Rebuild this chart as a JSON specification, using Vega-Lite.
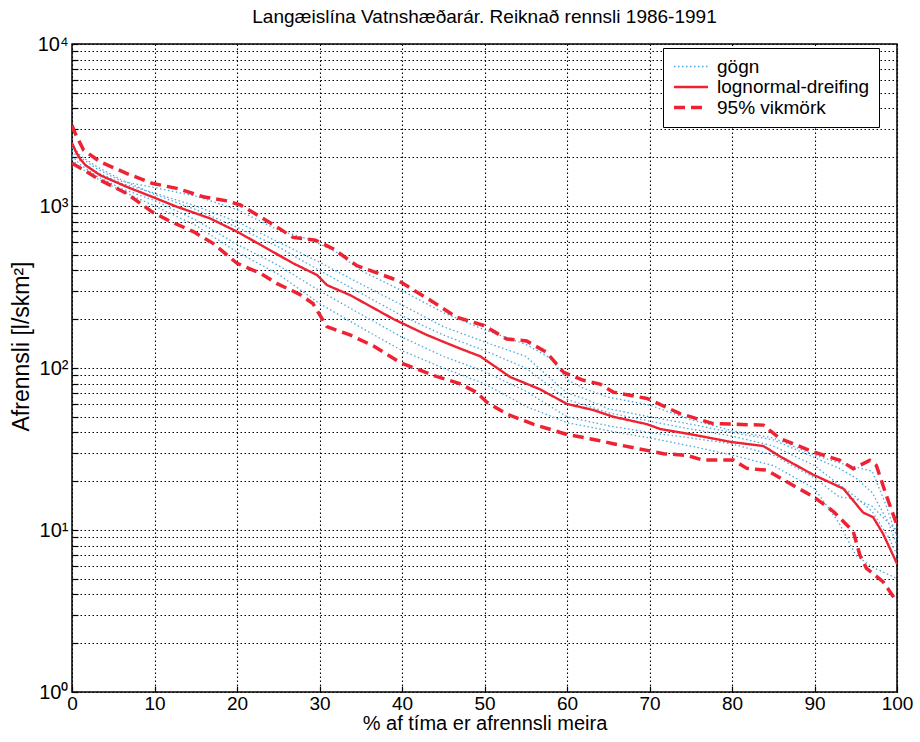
{
  "$schema": "https://vega.github.io/schema/vega-lite/v6.json",
  "width": 825,
  "height": 648,
  "autosize": {"type": "none"},
  "padding": {"left": 72, "top": 44, "right": 23, "bottom": 50},
  "background": "white",
  "title": {"text": "Langæislína Vatnshæðarár. Reiknað rennsli 1986-1991", "font": "Liberation Sans", "fontSize": 19, "fontWeight": "normal", "color": "black", "frame": "group", "anchor": "middle", "offset": 7},
  "config": {
    "view": {"stroke": "black", "strokeWidth": 1.5},
    "axis": {"labelFont": "Liberation Sans", "titleFont": "Liberation Sans", "labelColor": "black", "titleColor": "black", "titleFontWeight": "normal", "grid": true, "gridColor": "black", "gridOpacity": 1, "gridDash": [1.5, 2.5], "gridWidth": 1.1, "domain": false, "ticks": true, "tickSize": -6, "tickColor": "black", "tickWidth": 1.2}
  },
  "data": {"values": [
    {"s":"g1","k":"gögn","x":0,"y":2300},{"s":"g1","k":"gögn","x":1,"y":2000},{"s":"g1","k":"gögn","x":3,"y":1700},{"s":"g1","k":"gögn","x":6,"y":1420},{"s":"g1","k":"gögn","x":10,"y":1300},{"s":"g1","k":"gögn","x":15,"y":1150},{"s":"g1","k":"gögn","x":20,"y":950},{"s":"g1","k":"gögn","x":25,"y":710},{"s":"g1","k":"gögn","x":29,"y":617},{"s":"g1","k":"gögn","x":32,"y":520},{"s":"g1","k":"gögn","x":35,"y":400},{"s":"g1","k":"gögn","x":40,"y":300},{"s":"g1","k":"gögn","x":45,"y":220},{"s":"g1","k":"gögn","x":50,"y":172},{"s":"g1","k":"gögn","x":55,"y":140},{"s":"g1","k":"gögn","x":58,"y":115},{"s":"g1","k":"gögn","x":60,"y":85},{"s":"g1","k":"gögn","x":62,"y":75},{"s":"g1","k":"gögn","x":65,"y":66},{"s":"g1","k":"gögn","x":70,"y":59},{"s":"g1","k":"gögn","x":75,"y":48},{"s":"g1","k":"gögn","x":80,"y":41},{"s":"g1","k":"gögn","x":85,"y":37},{"s":"g1","k":"gögn","x":90,"y":29},{"s":"g1","k":"gögn","x":93,"y":26},{"s":"g1","k":"gögn","x":95,"y":24.5},{"s":"g1","k":"gögn","x":97,"y":23},{"s":"g1","k":"gögn","x":98.5,"y":15},{"s":"g1","k":"gögn","x":100,"y":9},
    {"s":"g2","k":"gögn","x":0,"y":2200},{"s":"g2","k":"gögn","x":1,"y":1900},{"s":"g2","k":"gögn","x":3,"y":1620},{"s":"g2","k":"gögn","x":6,"y":1380},{"s":"g2","k":"gögn","x":10,"y":1200},{"s":"g2","k":"gögn","x":15,"y":1000},{"s":"g2","k":"gögn","x":20,"y":800},{"s":"g2","k":"gögn","x":25,"y":600},{"s":"g2","k":"gögn","x":30,"y":450},{"s":"g2","k":"gögn","x":35,"y":330},{"s":"g2","k":"gögn","x":40,"y":245},{"s":"g2","k":"gögn","x":45,"y":180},{"s":"g2","k":"gögn","x":50,"y":145},{"s":"g2","k":"gögn","x":55,"y":118},{"s":"g2","k":"gögn","x":60,"y":70},{"s":"g2","k":"gögn","x":62,"y":65},{"s":"g2","k":"gögn","x":65,"y":56},{"s":"g2","k":"gögn","x":70,"y":50},{"s":"g2","k":"gögn","x":75,"y":45},{"s":"g2","k":"gögn","x":80,"y":40},{"s":"g2","k":"gögn","x":85,"y":36},{"s":"g2","k":"gögn","x":90,"y":28},{"s":"g2","k":"gögn","x":93,"y":24},{"s":"g2","k":"gögn","x":95,"y":21},{"s":"g2","k":"gögn","x":97,"y":17},{"s":"g2","k":"gögn","x":99,"y":11},{"s":"g2","k":"gögn","x":100,"y":8},
    {"s":"g3","k":"gögn","x":0,"y":2050},{"s":"g3","k":"gögn","x":1,"y":1800},{"s":"g3","k":"gögn","x":3,"y":1530},{"s":"g3","k":"gögn","x":6,"y":1280},{"s":"g3","k":"gögn","x":10,"y":1080},{"s":"g3","k":"gögn","x":15,"y":820},{"s":"g3","k":"gögn","x":20,"y":580},{"s":"g3","k":"gögn","x":25,"y":430},{"s":"g3","k":"gögn","x":30,"y":300},{"s":"g3","k":"gögn","x":35,"y":215},{"s":"g3","k":"gögn","x":40,"y":155},{"s":"g3","k":"gögn","x":45,"y":118},{"s":"g3","k":"gögn","x":50,"y":95},{"s":"g3","k":"gögn","x":55,"y":72},{"s":"g3","k":"gögn","x":60,"y":50},{"s":"g3","k":"gögn","x":65,"y":44},{"s":"g3","k":"gögn","x":70,"y":40},{"s":"g3","k":"gögn","x":75,"y":37},{"s":"g3","k":"gögn","x":80,"y":34},{"s":"g3","k":"gögn","x":85,"y":29},{"s":"g3","k":"gögn","x":90,"y":21},{"s":"g3","k":"gögn","x":93,"y":16},{"s":"g3","k":"gögn","x":95,"y":15.5},{"s":"g3","k":"gögn","x":97,"y":14},{"s":"g3","k":"gögn","x":99,"y":11},{"s":"g3","k":"gögn","x":100,"y":10},
    {"s":"g4","k":"gögn","x":0,"y":1950},{"s":"g4","k":"gögn","x":1,"y":1720},{"s":"g4","k":"gögn","x":3,"y":1480},{"s":"g4","k":"gögn","x":6,"y":1240},{"s":"g4","k":"gögn","x":10,"y":1000},{"s":"g4","k":"gögn","x":15,"y":760},{"s":"g4","k":"gögn","x":20,"y":520},{"s":"g4","k":"gögn","x":25,"y":380},{"s":"g4","k":"gögn","x":30,"y":250},{"s":"g4","k":"gögn","x":35,"y":178},{"s":"g4","k":"gögn","x":40,"y":128},{"s":"g4","k":"gögn","x":45,"y":100},{"s":"g4","k":"gögn","x":50,"y":80},{"s":"g4","k":"gögn","x":55,"y":58},{"s":"g4","k":"gögn","x":60,"y":46},{"s":"g4","k":"gögn","x":65,"y":41},{"s":"g4","k":"gögn","x":70,"y":37},{"s":"g4","k":"gögn","x":75,"y":33},{"s":"g4","k":"gögn","x":80,"y":29},{"s":"g4","k":"gögn","x":85,"y":25},{"s":"g4","k":"gögn","x":90,"y":18},{"s":"g4","k":"gögn","x":93,"y":11},{"s":"g4","k":"gögn","x":95,"y":7},{"s":"g4","k":"gögn","x":97,"y":5.9},{"s":"g4","k":"gögn","x":99,"y":5.3},{"s":"g4","k":"gögn","x":100,"y":5},
    {"s":"g5","k":"gögn","x":0,"y":2400},{"s":"g5","k":"gögn","x":1,"y":2050},{"s":"g5","k":"gögn","x":3,"y":1750},{"s":"g5","k":"gögn","x":6,"y":1450},{"s":"g5","k":"gögn","x":10,"y":1180},{"s":"g5","k":"gögn","x":15,"y":950},{"s":"g5","k":"gögn","x":20,"y":740},{"s":"g5","k":"gögn","x":25,"y":560},{"s":"g5","k":"gögn","x":30,"y":400},{"s":"g5","k":"gögn","x":35,"y":290},{"s":"g5","k":"gögn","x":40,"y":210},{"s":"g5","k":"gögn","x":45,"y":160},{"s":"g5","k":"gögn","x":50,"y":128},{"s":"g5","k":"gögn","x":55,"y":100},{"s":"g5","k":"gögn","x":60,"y":64},{"s":"g5","k":"gögn","x":65,"y":53},{"s":"g5","k":"gögn","x":70,"y":47},{"s":"g5","k":"gögn","x":75,"y":42},{"s":"g5","k":"gögn","x":80,"y":38},{"s":"g5","k":"gögn","x":85,"y":33},{"s":"g5","k":"gögn","x":90,"y":25},{"s":"g5","k":"gögn","x":93,"y":19},{"s":"g5","k":"gögn","x":95,"y":16},{"s":"g5","k":"gögn","x":97,"y":13},{"s":"g5","k":"gögn","x":99,"y":9},{"s":"g5","k":"gögn","x":100,"y":7},
    {"s":"ln","k":"lognormal-dreifing","x":0,"y":2450},{"s":"ln","k":"lognormal-dreifing","x":0.5,"y":2150},{"s":"ln","k":"lognormal-dreifing","x":1,"y":1950},{"s":"ln","k":"lognormal-dreifing","x":1.6,"y":1790},{"s":"ln","k":"lognormal-dreifing","x":3.4,"y":1550},{"s":"ln","k":"lognormal-dreifing","x":6.6,"y":1315},{"s":"ln","k":"lognormal-dreifing","x":9.7,"y":1140},{"s":"ln","k":"lognormal-dreifing","x":12.7,"y":990},{"s":"ln","k":"lognormal-dreifing","x":16.7,"y":840},{"s":"ln","k":"lognormal-dreifing","x":20,"y":695},{"s":"ln","k":"lognormal-dreifing","x":23.6,"y":548},{"s":"ln","k":"lognormal-dreifing","x":26.8,"y":443},{"s":"ln","k":"lognormal-dreifing","x":29.7,"y":375},{"s":"ln","k":"lognormal-dreifing","x":30.9,"y":325},{"s":"ln","k":"lognormal-dreifing","x":33.7,"y":282},{"s":"ln","k":"lognormal-dreifing","x":39,"y":200},{"s":"ln","k":"lognormal-dreifing","x":43,"y":160},{"s":"ln","k":"lognormal-dreifing","x":47,"y":132},{"s":"ln","k":"lognormal-dreifing","x":49.5,"y":118},{"s":"ln","k":"lognormal-dreifing","x":53.1,"y":88},{"s":"ln","k":"lognormal-dreifing","x":56.7,"y":74},{"s":"ln","k":"lognormal-dreifing","x":60,"y":60},{"s":"ln","k":"lognormal-dreifing","x":63.2,"y":55},{"s":"ln","k":"lognormal-dreifing","x":65.6,"y":50},{"s":"ln","k":"lognormal-dreifing","x":69.7,"y":45},{"s":"ln","k":"lognormal-dreifing","x":71.3,"y":42},{"s":"ln","k":"lognormal-dreifing","x":75,"y":39},{"s":"ln","k":"lognormal-dreifing","x":79.8,"y":35},{"s":"ln","k":"lognormal-dreifing","x":83.8,"y":33},{"s":"ln","k":"lognormal-dreifing","x":85.8,"y":28.5},{"s":"ln","k":"lognormal-dreifing","x":89.8,"y":22},{"s":"ln","k":"lognormal-dreifing","x":93.5,"y":18},{"s":"ln","k":"lognormal-dreifing","x":95.9,"y":12.8},{"s":"ln","k":"lognormal-dreifing","x":97.1,"y":12},{"s":"ln","k":"lognormal-dreifing","x":98.3,"y":9.5},{"s":"ln","k":"lognormal-dreifing","x":100,"y":6.2},
    {"s":"up","k":"95% vikmörk","x":0,"y":3150},{"s":"up","k":"95% vikmörk","x":0.4,"y":2800},{"s":"up","k":"95% vikmörk","x":1.4,"y":2215},{"s":"up","k":"95% vikmörk","x":3.4,"y":1877},{"s":"up","k":"95% vikmörk","x":6.6,"y":1590},{"s":"up","k":"95% vikmörk","x":9.7,"y":1380},{"s":"up","k":"95% vikmörk","x":12.7,"y":1285},{"s":"up","k":"95% vikmörk","x":15.9,"y":1140},{"s":"up","k":"95% vikmörk","x":18.8,"y":1075},{"s":"up","k":"95% vikmörk","x":20.4,"y":1015},{"s":"up","k":"95% vikmörk","x":22.8,"y":860},{"s":"up","k":"95% vikmörk","x":24.8,"y":745},{"s":"up","k":"95% vikmörk","x":26.8,"y":640},{"s":"up","k":"95% vikmörk","x":29.5,"y":615},{"s":"up","k":"95% vikmörk","x":31.7,"y":543},{"s":"up","k":"95% vikmörk","x":34.5,"y":429},{"s":"up","k":"95% vikmörk","x":39.6,"y":345},{"s":"up","k":"95% vikmörk","x":43.8,"y":255},{"s":"up","k":"95% vikmörk","x":46.6,"y":206},{"s":"up","k":"95% vikmörk","x":49.9,"y":183},{"s":"up","k":"95% vikmörk","x":52.7,"y":151},{"s":"up","k":"95% vikmörk","x":55.1,"y":147},{"s":"up","k":"95% vikmörk","x":57.5,"y":125},{"s":"up","k":"95% vikmörk","x":59.6,"y":94},{"s":"up","k":"95% vikmörk","x":62,"y":84},{"s":"up","k":"95% vikmörk","x":64,"y":79.6},{"s":"up","k":"95% vikmörk","x":65.6,"y":71},{"s":"up","k":"95% vikmörk","x":69.7,"y":64.8},{"s":"up","k":"95% vikmörk","x":73.7,"y":52.3},{"s":"up","k":"95% vikmörk","x":77.7,"y":45.4},{"s":"up","k":"95% vikmörk","x":83.8,"y":44.4},{"s":"up","k":"95% vikmörk","x":85.8,"y":36.7},{"s":"up","k":"95% vikmörk","x":89.9,"y":30.3},{"s":"up","k":"95% vikmörk","x":93.1,"y":26.9},{"s":"up","k":"95% vikmörk","x":94.7,"y":23.9},{"s":"up","k":"95% vikmörk","x":96.7,"y":26.9},{"s":"up","k":"95% vikmörk","x":97.5,"y":25},{"s":"up","k":"95% vikmörk","x":98.7,"y":16.4},{"s":"up","k":"95% vikmörk","x":100,"y":10.7},
    {"s":"lo","k":"95% vikmörk","x":0,"y":1835},{"s":"lo","k":"95% vikmörk","x":1.4,"y":1670},{"s":"lo","k":"95% vikmörk","x":3.4,"y":1445},{"s":"lo","k":"95% vikmörk","x":6.6,"y":1197},{"s":"lo","k":"95% vikmörk","x":9.7,"y":920},{"s":"lo","k":"95% vikmörk","x":12,"y":800},{"s":"lo","k":"95% vikmörk","x":14.7,"y":695},{"s":"lo","k":"95% vikmörk","x":17.1,"y":588},{"s":"lo","k":"95% vikmörk","x":20,"y":443},{"s":"lo","k":"95% vikmörk","x":22.8,"y":385},{"s":"lo","k":"95% vikmörk","x":24.8,"y":333},{"s":"lo","k":"95% vikmörk","x":27.6,"y":285},{"s":"lo","k":"95% vikmörk","x":29.2,"y":250},{"s":"lo","k":"95% vikmörk","x":30.9,"y":180},{"s":"lo","k":"95% vikmörk","x":33.7,"y":160},{"s":"lo","k":"95% vikmörk","x":36.5,"y":137},{"s":"lo","k":"95% vikmörk","x":39.8,"y":108},{"s":"lo","k":"95% vikmörk","x":43.8,"y":90},{"s":"lo","k":"95% vikmörk","x":47,"y":80},{"s":"lo","k":"95% vikmörk","x":49,"y":71},{"s":"lo","k":"95% vikmörk","x":50.3,"y":61.4},{"s":"lo","k":"95% vikmörk","x":52.7,"y":52},{"s":"lo","k":"95% vikmörk","x":55.9,"y":45},{"s":"lo","k":"95% vikmörk","x":59.9,"y":39},{"s":"lo","k":"95% vikmörk","x":64,"y":35.6},{"s":"lo","k":"95% vikmörk","x":65.6,"y":34.1},{"s":"lo","k":"95% vikmörk","x":69.7,"y":31},{"s":"lo","k":"95% vikmörk","x":71.7,"y":29.6},{"s":"lo","k":"95% vikmörk","x":74.5,"y":28.9},{"s":"lo","k":"95% vikmörk","x":76.5,"y":27},{"s":"lo","k":"95% vikmörk","x":80.2,"y":27},{"s":"lo","k":"95% vikmörk","x":81.8,"y":24},{"s":"lo","k":"95% vikmörk","x":84.2,"y":23.4},{"s":"lo","k":"95% vikmörk","x":86.6,"y":19.9},{"s":"lo","k":"95% vikmörk","x":89.9,"y":16},{"s":"lo","k":"95% vikmörk","x":92.3,"y":13},{"s":"lo","k":"95% vikmörk","x":94.7,"y":9.8},{"s":"lo","k":"95% vikmörk","x":95.5,"y":7},{"s":"lo","k":"95% vikmörk","x":96.3,"y":5.8},{"s":"lo","k":"95% vikmörk","x":98.3,"y":4.8},{"s":"lo","k":"95% vikmörk","x":100,"y":3.6}
  ]},
  "mark": {"type": "line", "clip": true, "strokeCap": "butt"},
  "encoding": {
    "x": {"field": "x", "type": "quantitative", "scale": {"domain": [0, 100], "nice": false},
      "axis": {"values": [0,10,20,30,40,50,60,70,80,90,100], "title": "% af tíma er afrennsli meira", "labelFontSize": 19, "titleFontSize": 20, "labelPadding": 8, "titlePadding": 0, "labelFlush": false}},
    "y": {"field": "y", "type": "quantitative", "scale": {"type": "log", "domain": [1, 10000], "nice": false},
      "axis": {"values": [1,2,3,4,5,6,7,8,9,10,20,30,40,50,60,70,80,90,100,200,300,400,500,600,700,800,900,1000,2000,3000,4000,5000,6000,7000,8000,9000,10000],
        "labelExpr": "datum.value == 1 ? '10⁰' : datum.value == 10 ? '10¹' : datum.value == 100 ? '10²' : datum.value == 1000 ? '10³' : datum.value == 10000 ? '10⁴' : ''",
        "labelOverlap": false, "labelFlush": false, "labelBound": false, "labelFontSize": 20, "labelPadding": 10, "title": "Afrennsli [l/skm²]", "titleFontSize": 23, "titlePadding": 4, "titleY": 302}},
    "detail": {"field": "s"},
    "color": {"field": "k", "type": "nominal", "scale": {"domain": ["gögn", "lognormal-dreifing", "95% vikmörk"], "range": ["#4aa8e0", "#ee2233", "#ee2233"]},
      "legend": {"orient": "none", "legendX": 591, "legendY": 4, "title": null, "fillColor": "white", "strokeColor": "black", "padding": 9, "labelFont": "Liberation Sans", "labelFontSize": 19, "labelLimit": 400, "labelColor": "black", "symbolType": "M-1,0H3", "symbolSize": 289, "labelOffset": 24, "rowPadding": 0}},
    "strokeDash": {"field": "k", "type": "nominal", "scale": {"domain": ["gögn", "lognormal-dreifing", "95% vikmörk"], "range": [[1.5, 2.5], [1, 0], [11, 6]]}},
    "strokeWidth": {"field": "k", "type": "nominal", "scale": {"domain": ["gögn", "lognormal-dreifing", "95% vikmörk"], "range": [1.3, 3.5, 4.5]}}
  }
}
